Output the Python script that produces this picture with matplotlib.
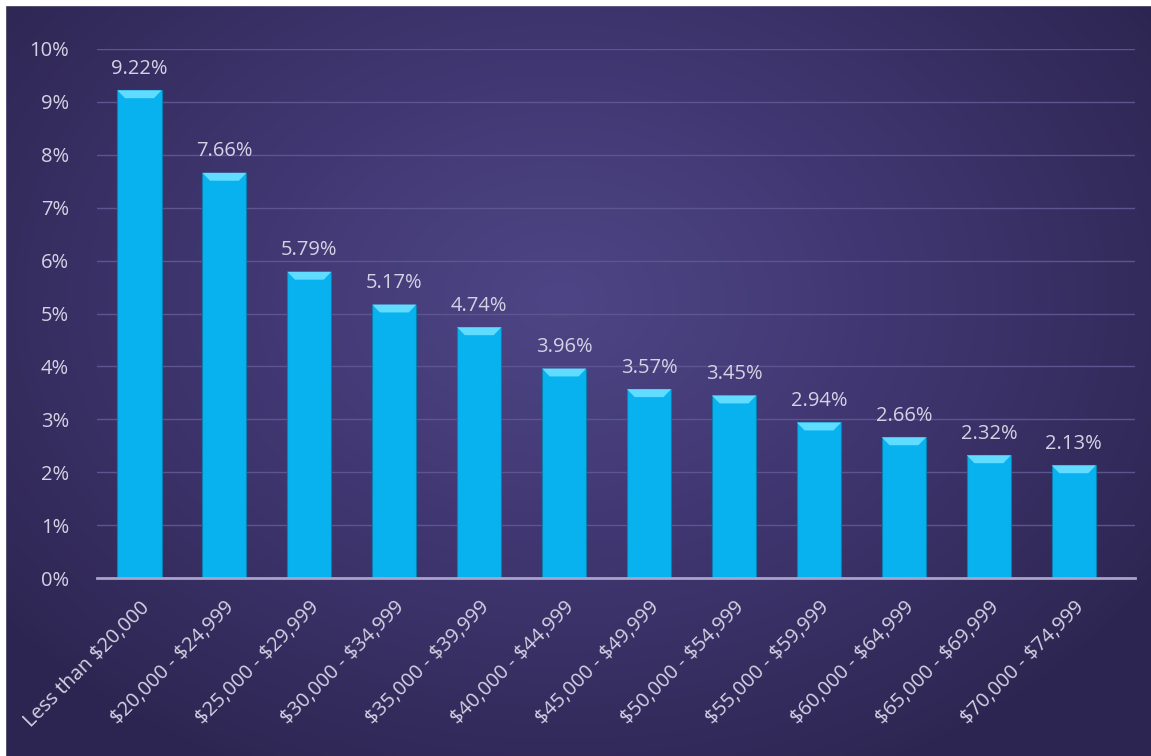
import numpy as np
import matplotlib.pyplot as plt
from matplotlib.colors import LinearSegmentedColormap
from matplotlib.patches import Polygon

# income brackets and share of households
categories = ['Less than $20,000', '$20,000 - $24,999', '$25,000 - $29,999',
              '$30,000 - $34,999', '$35,000 - $39,999', '$40,000 - $44,999',
              '$45,000 - $49,999', '$50,000 - $54,999', '$55,000 - $59,999',
              '$60,000 - $64,999', '$65,000 - $69,999', '$70,000 - $74,999']
values = [9.22, 7.66, 5.79, 5.17, 4.74, 3.96, 3.57, 3.45, 2.94, 2.66, 2.32, 2.13]
yticks = [0, 1, 2, 3, 4, 5, 6, 7, 8, 9, 10]

plt.rcParams['font.family'] = ['Open Sans', 'DejaVu Sans']
plt.rcParams['text.parse_math'] = False  # keep the dollar signs literal
txt = '#d4d2e4'
fs = 14.5

fig = plt.figure(figsize=(11.51, 7.56), dpi=100)

# background: radial purple gradient
bg = fig.add_axes([0, 0, 1, 1])
yy, xx = np.mgrid[0:756, 0:1151]
r = np.sqrt(((xx - 560) / 700.0) ** 2 + ((yy - 300) / 520.0) ** 2)
cmap = LinearSegmentedColormap.from_list('bg', ['#4e4586', '#3f3670', '#2e2652'])
bg.imshow(np.clip(r, 0, 1), cmap=cmap, aspect='auto', extent=[0, 1, 0, 1])
bg.axis('off')
# white strip at top/left like the screenshot
bg.axhspan(0.993, 1, color='white')
bg.axvspan(0, 0.004, color='white')

ax = fig.add_axes([97 / 1151, 1 - 578 / 756, (1135 - 97) / 1151, (578 - 49) / 756])
ax.patch.set_alpha(0)
x = np.arange(len(values))
w = 0.52
ax.bar(x, values, width=w, color='#08b2ee', edgecolor='#0a7fb0', linewidth=0.8, zorder=3)

# bevel cap on each bar
for xi, v in zip(x, values):
    cap = 0.15
    inset = 0.09
    top = Polygon([[xi - w / 2, v], [xi + w / 2, v], [xi + w / 2 - inset, v - cap],
                   [xi - w / 2 + inset, v - cap]], closed=True,
                  facecolor='#5fdcff', edgecolor='none', zorder=4)
    ax.add_patch(top)
    ax.text(xi, v + 0.22, '%.2f%%' % v, ha='center', va='bottom',
            color=txt, fontsize=fs)

ax.set_xlim(-0.5, 11.72)
ax.set_ylim(0, 10)
ax.set_yticks(yticks)
ax.set_yticklabels(['%d%%' % t for t in yticks], color=txt, fontsize=fs)
ax.set_xticks(x)
ax.set_xticklabels(categories, rotation=45, ha='right', rotation_mode='anchor',
                   color=txt, fontsize=fs)
ax.tick_params(axis='y', length=0, pad=20)
ax.tick_params(axis='x', length=0, pad=14)
ax.grid(axis='y', color='#5d5590', linewidth=1, zorder=0)
for s in ['top', 'right', 'left']:
    ax.spines[s].set_visible(False)
ax.spines['bottom'].set_color('#a9a3c9')
ax.spines['bottom'].set_linewidth(2)
ax.spines['bottom'].set_zorder(5)

fig.savefig('out.png', dpi=100)
